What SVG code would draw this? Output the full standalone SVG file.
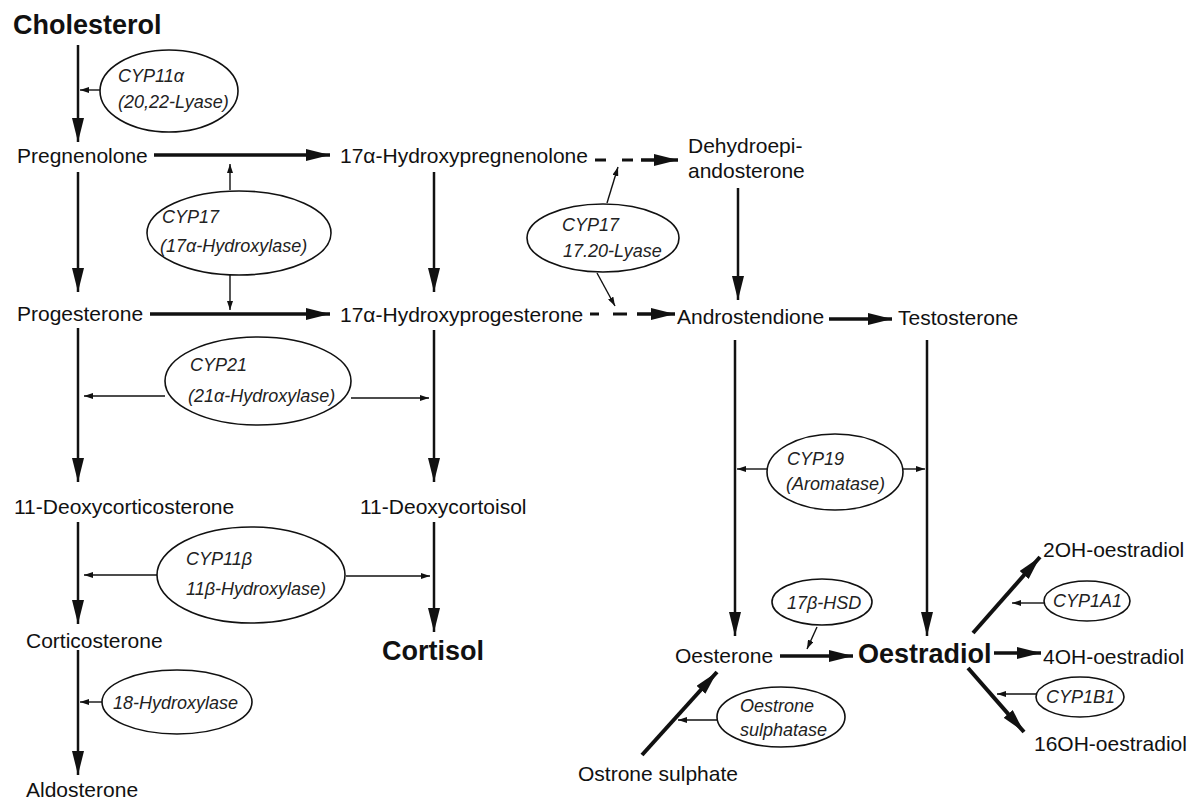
<svg xmlns="http://www.w3.org/2000/svg" width="1188" height="800" viewBox="0 0 1188 800">
<defs>
<style>
.t{font-family:"Liberation Sans",Arial,sans-serif;font-size:21px;fill:#111}
.b{font-family:"Liberation Sans",Arial,sans-serif;font-size:27px;font-weight:bold;fill:#111}
.e{font-family:"Liberation Sans",Arial,sans-serif;font-size:18px;font-style:italic;fill:#222}
.el{fill:#fff;stroke:#111;stroke-width:1.6}
.m{fill:none;stroke:#111;stroke-width:2.5;marker-end:url(#big)}
.h{fill:none;stroke:#111;stroke-width:3.5;marker-end:url(#big)}
.d{fill:none;stroke:#111;stroke-width:4;marker-end:url(#big)}
.s{fill:none;stroke:#111;stroke-width:1.4;marker-end:url(#sm)}
.dash{fill:none;stroke:#111;stroke-width:3}
</style>
<marker id="big" markerWidth="24" markerHeight="12" refX="24" refY="6" orient="auto" markerUnits="userSpaceOnUse"><path d="M0,0 L24,6 L0,12 Z" fill="#111"/></marker>
<marker id="sm" markerWidth="9" markerHeight="6" refX="9" refY="3" orient="auto" markerUnits="userSpaceOnUse"><path d="M0,0 L9,3 L0,6 Z" fill="#111"/></marker>
</defs>
<rect width="1188" height="800" fill="#fff"/>

<g id="connectors">
<path class="m" d="M78,45 V142"/>
<path class="s" d="M100,90 H80"/>
<path class="h" d="M154,155 H330"/>
<path class="s" d="M230,190 V164"/>
<path class="s" d="M230,275 V310"/>
<path class="h" d="M150,314 H330"/>
<path class="m" d="M78,172 V292"/>
<path class="m" d="M434,172 V292"/>
<path class="m" d="M78,328 V482"/>
<path class="m" d="M434,330 V482"/>
<path class="s" d="M165,396 H84"/>
<path class="s" d="M351,398 H429"/>
<path class="m" d="M78,522 V624"/>
<path class="m" d="M434,522 V632"/>
<path class="s" d="M157,575 H84"/>
<path class="s" d="M346,576 H430"/>
<path class="m" d="M78,650 V775"/>
<path class="s" d="M102,702 H80"/>
<path class="dash" d="M595,160 H606 M622,160 H633"/>
<path class="h" d="M641,160 H678"/>
<path class="dash" d="M590,314 H599 M613,314 H627"/>
<path class="h" d="M637,314 H675"/>
<path class="s" d="M607,203 L618,167"/>
<path class="s" d="M597,273 L615,306"/>
<path class="m" d="M738,188 V300"/>
<path class="h" d="M829,319 H892"/>
<path class="m" d="M735,340 V636"/>
<path class="m" d="M927,340 V636"/>
<path class="s" d="M767,469 H737"/>
<path class="s" d="M902,469 H925"/>
<path class="s" d="M817,627 L807,649"/>
<path class="h" d="M780,656 H853"/>
<path class="d" d="M642,755 L717,672"/>
<path class="s" d="M717,720 H678"/>
<path class="d" d="M973,633 L1040,557"/>
<path class="s" d="M1044,603 H1012"/>
<path class="h" d="M994,653 H1041"/>
<path class="s" d="M1036,694 H997"/>
<path class="d" d="M968,668 L1024,732"/>
</g>

<g id="cholesterol"><text class="b" x="13" y="34">Cholesterol</text></g>
<g id="pregnenolone"><text class="t" x="17" y="163">Pregnenolone</text></g>
<g id="hydroxypregnenolone"><text class="t" x="340" y="163">17α-Hydroxypregnenolone</text></g>
<g id="dhea"><text class="t" x="688" y="153">Dehydroepi-</text><text class="t" x="688" y="178">andosterone</text></g>
<g id="progesterone"><text class="t" x="17" y="321">Progesterone</text></g>
<g id="hydroxyprogesterone"><text class="t" x="340" y="322">17α-Hydroxyprogesterone</text></g>
<g id="androstendione"><text class="t" x="677" y="324">Androstendione</text></g>
<g id="testosterone"><text class="t" x="898" y="325">Testosterone</text></g>
<g id="deoxycorticosterone"><text class="t" x="14" y="514">11-Deoxycorticosterone</text></g>
<g id="deoxycortisol"><text class="t" x="360" y="514">11-Deoxycortoisol</text></g>
<g id="corticosterone"><text class="t" x="26" y="648">Corticosterone</text></g>
<g id="aldosterone"><text class="t" x="26" y="797">Aldosterone</text></g>
<g id="cortisol"><text class="b" x="382" y="660">Cortisol</text></g>
<g id="oesterone"><text class="t" x="675" y="663">Oesterone</text></g>
<g id="oestradiol"><text class="b" x="858" y="663">Oestradiol</text></g>
<g id="ostrone-sulphate"><text class="t" x="578" y="781">Ostrone sulphate</text></g>
<g id="oh2"><text class="t" x="1043" y="557">2OH-oestradiol</text></g>
<g id="oh4"><text class="t" x="1043" y="664">4OH-oestradiol</text></g>
<g id="oh16"><text class="t" x="1034" y="751">16OH-oestradiol</text></g>

<g id="cyp11a"><ellipse class="el" cx="169" cy="91" rx="69" ry="41"/><text class="e" x="118" y="82">CYP11α</text><text class="e" x="118" y="108">(20,22-Lyase)</text></g>
<g id="cyp17a"><ellipse class="el" cx="239" cy="233" rx="92" ry="42"/><text class="e" x="162" y="223">CYP17</text><text class="e" x="160" y="252">(17α-Hydroxylase)</text></g>
<g id="cyp17b"><ellipse class="el" cx="603" cy="238" rx="76" ry="34"/><text class="e" x="562" y="231">CYP17</text><text class="e" x="563" y="257">17.20-Lyase</text></g>
<g id="cyp21"><ellipse class="el" cx="258" cy="381" rx="93" ry="44"/><text class="e" x="190" y="371">CYP21</text><text class="e" x="188" y="402">(21α-Hydroxylase)</text></g>
<g id="cyp11b"><ellipse class="el" cx="251" cy="575" rx="94" ry="48"/><text class="e" x="186" y="565">CYP11β</text><text class="e" x="186" y="595">11β-Hydroxylase)</text></g>
<g id="hydroxylase18"><ellipse class="el" cx="177" cy="702" rx="75" ry="32"/><text class="e" x="113" y="709">18-Hydroxylase</text></g>
<g id="cyp19"><ellipse class="el" cx="835" cy="472" rx="68" ry="38"/><text class="e" x="787" y="465">CYP19</text><text class="e" x="786" y="490">(Aromatase)</text></g>
<g id="hsd17b"><ellipse class="el" cx="822" cy="602" rx="50" ry="23"/><text class="e" x="787" y="609">17β-HSD</text></g>
<g id="sulphatase"><ellipse class="el" cx="781" cy="717" rx="64" ry="30"/><text class="e" x="740" y="712">Oestrone</text><text class="e" x="740" y="736">sulphatase</text></g>
<g id="cyp1a1"><ellipse class="el" cx="1087" cy="601" rx="43" ry="20"/><text class="e" x="1053" y="607">CYP1A1</text></g>
<g id="cyp1b1"><ellipse class="el" cx="1080" cy="697" rx="44" ry="20"/><text class="e" x="1046" y="703">CYP1B1</text></g>
</svg>
